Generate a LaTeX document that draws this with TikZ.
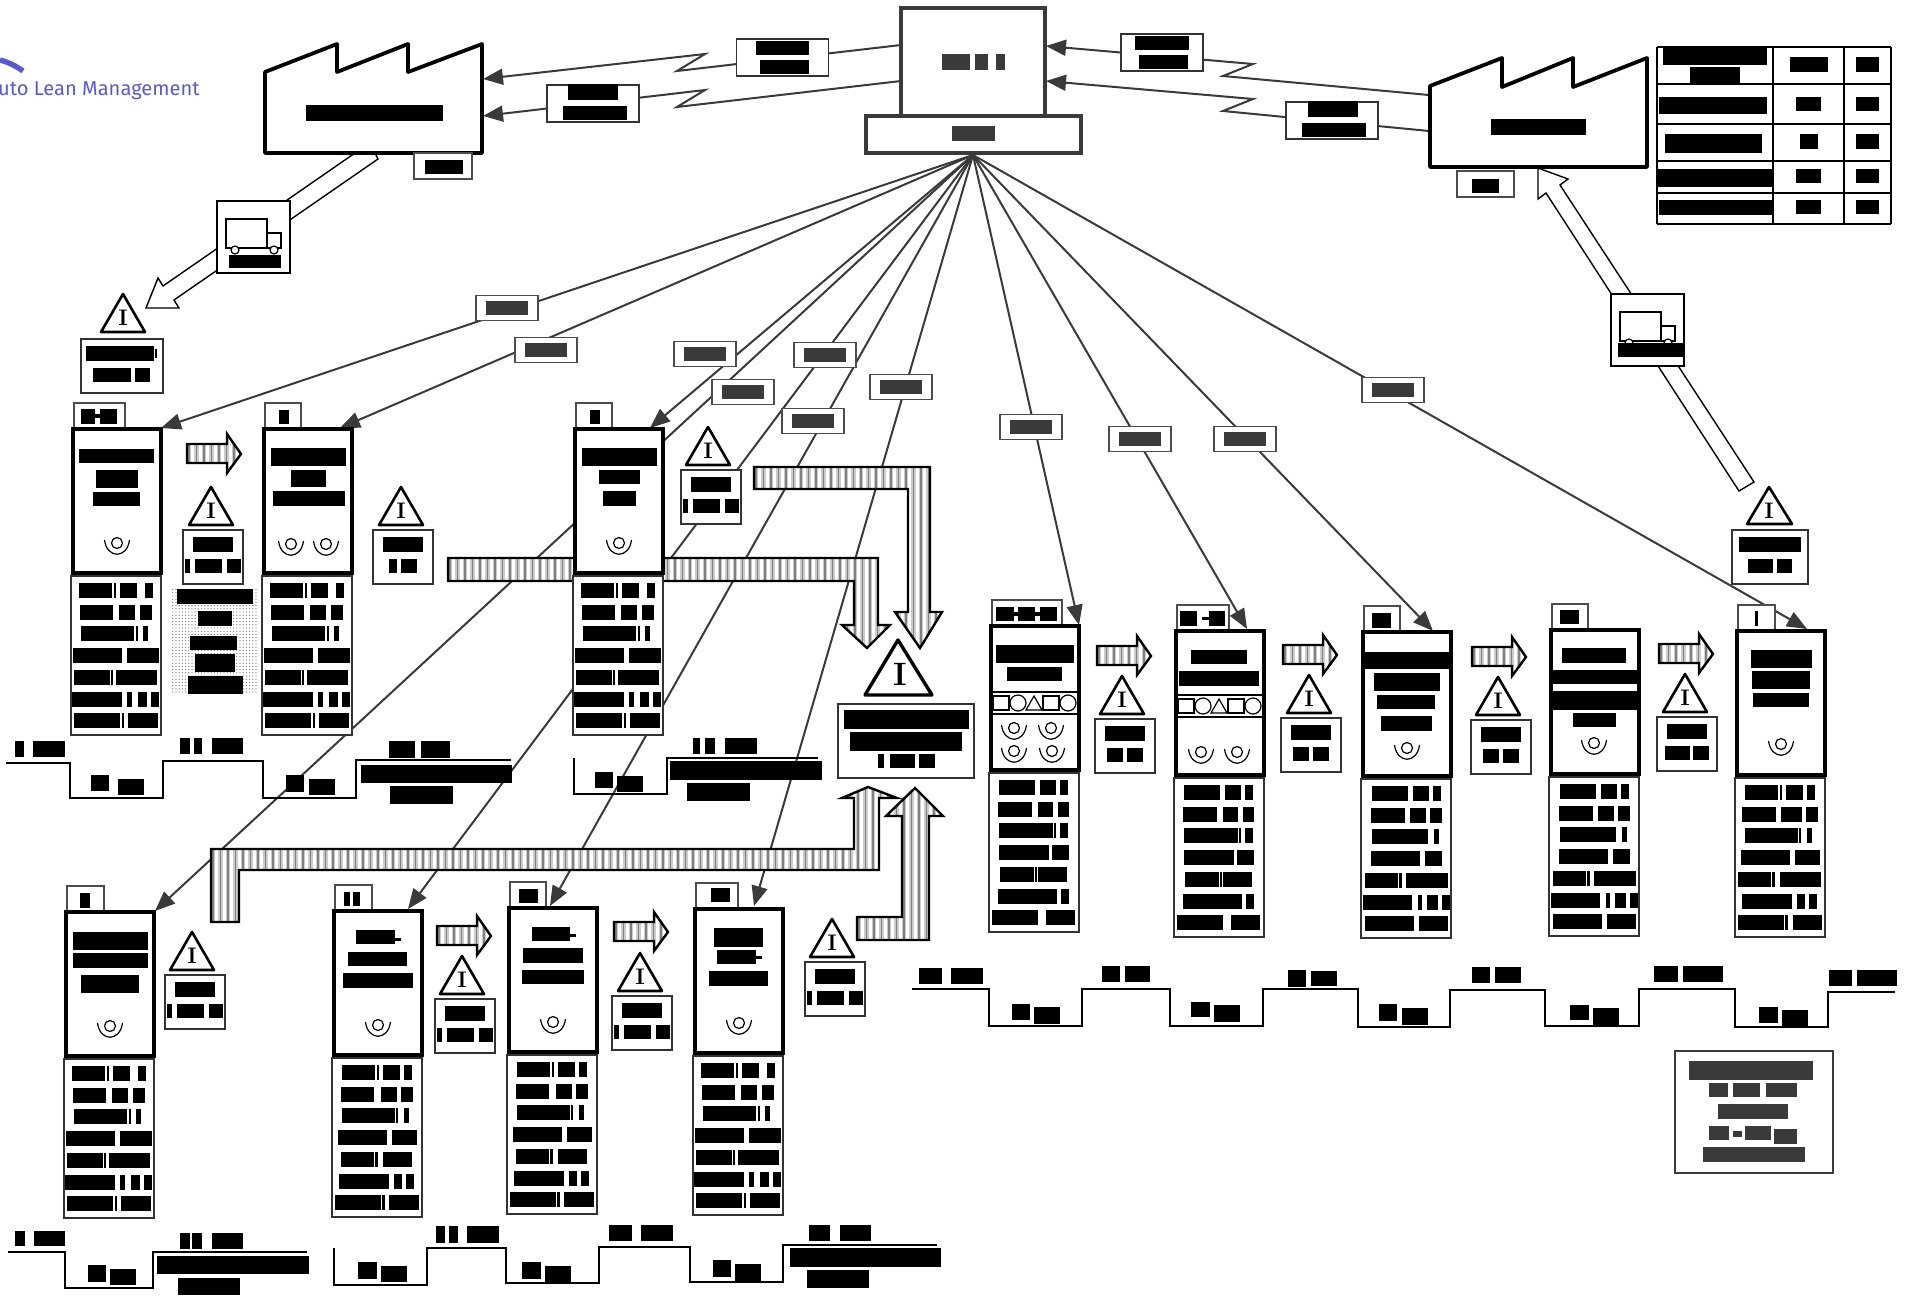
\documentclass[tikz,border=0pt]{standalone}
\usepackage{fontspec}
\usetikzlibrary{arrows.meta,patterns.meta}
\newfontfamily\logofont{Fira Sans}
\definecolor{dgray}{HTML}{3A3A3A}
\definecolor{logoblue}{HTML}{5A5ACB}

\tikzset{
    procbox/.style={draw,fill=white,line width=.175cm,inner sep=0pt,outer sep=0pt,minimum width=4.4cm,minimum height=7.2cm},
    databox/.style={draw=black!80,fill=white,line width=.075cm,inner sep=0pt,outer sep=0pt,minimum width=4.5cm,minimum height=7.95cm},
    tabbox/.style={draw=black!70,fill=white,line width=.06cm,inner sep=0pt,outer sep=0pt,minimum height=1.3cm},
    invbox/.style={draw=black!80,fill=white,line width=.075cm,inner sep=0pt,outer sep=0pt,minimum width=3cm,minimum height=2.7cm},
    invtri/.style={draw,fill=white,line width=.13cm,line join=round},
    invletter/.style={inner sep=0pt,font=\fontsize{32}{32}\selectfont\bfseries},
    hubbox/.style={draw=dgray,fill=white,line width=.17cm,inner sep=0pt,outer sep=0pt},
    infoline/.style={draw=dgray,line width=.1cm,-{Triangle[length=1cm,width=.8cm]}},
    linetag/.style={draw=black!70,fill=white,text=dgray,line width=.06cm,inner xsep=.5cm,inner ysep=.275cm,outer sep=0pt},
    wiretag/.style={draw=black!80,fill=white,line width=.06cm,inner sep=0pt,outer sep=0pt,minimum width=4.6cm,minimum height=1.85cm},
    stripeedge/.style={draw,line width=.12cm,line join=miter},
    shipping/.style={draw,fill=white,line width=.07cm},
    oprline/.style={draw,line width=.06cm},
    timeline/.style={draw,line width=.08cm},
    factory/.style={draw,fill=white,line width=.19cm,line join=round}
}

% rectangles over hidden text: x1/y1/x2/y2
\newcommand{\redact}[1]{\foreach \xa/\ya/\xb/\yb in {#1} \fill (\xa,\ya) rectangle (\xb,\yb);}
\newcommand{\datarows}[3]{\foreach \rw/\xa/\xb in #3 \fill ({#1+\xa},{#2+7+21.7*(\rw-1)}) rectangle ({#1+\xb},{#2+22+21.7*(\rw-1)});}
\newcommand{\procstep}[5]{
    \node[tabbox,anchor=south west,minimum width=#4*.05cm] (#1tab) at (#2+1,#3) {};
    \node[procbox,anchor=north west] (#1) at (#2,#3) {};
    \node[databox,anchor=north west] (#1data) at (#2-2,#3+147) {};
    \datarows{#2-2}{#3+147}{#5}
}
\newcommand{\oprmark}[2]{
    \draw[oprline] (#1,#2) circle[radius=5.5];
    \draw[oprline] (#1-12.5,#2-3) .. controls (#1-10,#2+16) and (#1+10,#2+16) .. (#1+12.5,#2-3);
}
\newcommand{\invmark}[6]{
    \draw[invtri] (#2,#3) -- (#2+22,#3+38) -- (#2-22,#3+38) -- cycle;
    \node[invletter] (#1mark) at (#2,#3+24) {I};
    \node[invbox,anchor=north west] (#1) at (#4,#5) {};
    \fill (#4+10,#5+7) rectangle (#4+50,#5+22);
    \foreach \xa/\xb in #6 \fill (#4+\xa,#5+29) rectangle (#4+\xb,#5+43);
}
% striped body: x range, y range, outline
\newcommand{\stripearea}[5]{
    \fill[white] #5;
    \pgfmathsetmacro\stripestart{#1}
    \pgfmathsetmacro\stripenext{#1+7.5}
    \pgfmathsetmacro\stripeend{#2}
    \begin{scope}
        \clip #5;
        \foreach \sx in {\stripestart,\stripenext,...,\stripeend} {
            \draw[gray!40,line width=.22cm] (\sx,#3) -- (\sx,#4);
            \draw[gray,line width=.09cm] (\sx,#3) -- (\sx,#4);
        }
    \end{scope}
    \draw[stripeedge] #5;
}
\newcommand{\pusharrow}[2]{
    \stripearea{#1+2}{#1+56}{#2-12}{#2+31}{(#1,#2) -- (#1+40,#2) -- (#1+40,#2-10) -- (#1+54,#2+10) -- (#1+40,#2+29) -- (#1+40,#2+19) -- (#1,#2+19) -- cycle}
}
\newcommand{\truckbox}[3]{
    \node[draw,fill=white,line width=.12cm,inner sep=0pt,outer sep=0pt,minimum width=3.65cm,minimum height=3.6cm,anchor=north west] (#1) at (#2,#3) {};
    \draw[line width=.06cm] (#2+9,#3+18) rectangle (#2+50,#3+47);
    \draw[line width=.06cm] (#2+50,#3+32) rectangle (#2+64,#3+47);
    \draw[line width=.06cm,fill=white] (#2+18,#3+49) circle[radius=4];
    \draw[line width=.06cm,fill=white] (#2+57,#3+49) circle[radius=4];
}
\def\invLong{2/7,12/39,44/58}
\def\invShort{12/28,32/48}
\def\invWide{8/33,36/52}
\def\invPair{16/24,28/44}
\def\rowsL{1/8/41,1/43/45,1/49/66,1/74/82,2/9/42,2/48/64,2/69/81,3/10/63,3/65/67,3/72/77,4/2/51,4/56/88,5/3/39,5/40/42,5/45/86,6/1/51,6/56/61,6/67/76,6/80/88,7/3/49,7/51/53,7/57/87}
\def\rowsM{1/10/46,1/51/67,1/71/79,2/9/43,2/49/64,2/69/80,3/10/64,3/65/67,3/71/79,4/10/60,4/63/80,5/11/45,5/46/48,5/49/78,6/9/68,6/72/80,7/3/49,7/57/86}
\def\rowsN{1/11/47,1/52/68,1/72/80,2/10/44,2/49/65,2/69/81,3/11/67,3/73/78,4/10/59,4/64/81,5/4/37,5/38/41,5/45/87,6/2/51,6/57/61,6/66/77,6/81/89,7/4/53,7/58/87}
\def\rowsP{1/10/43,1/45/47,1/51/68,1/72/80,2/7/41,2/46/67,2/71/83,3/10/63,3/64/66,3/72/77,4/6/55,4/60/85,5/3/36,5/37/40,5/45/86,6/7/57,6/62/70,6/74/82,7/3/49,7/50/53,7/58/87}
\def\rowsT{1/10/43,1/45/47,1/51/68,1/72/80,2/9/42,2/49/65,2/69/81,3/10/63,3/64/66,3/72/77,4/6/55,4/60/85,5/9/42,5/43/46,5/51/80,6/7/57,6/62/70,6/74/82,7/3/49,7/50/53,7/57/87}

\begin{document}
\begin{tikzpicture}[x=.05cm,y=-.05cm]
    \useasboundingbox (0,0) rectangle (1907,1300);

    % logo
    \draw[logoblue,line width=.27cm] (0,60) .. controls (8,62) and (16,66) .. (23,71);
    \node[anchor=base west,inner sep=0pt,text=logoblue,font=\logofont\fontsize{28.6}{30}\selectfont] (logo) at (-2,95) {uto Lean Management};

    % end points of the information lines
    \coordinate (inP2) at (340,428);
    \coordinate (inP3) at (650,428);
    \coordinate (inP5) at (1247,629);
    \coordinate (inP6) at (1433,631);
    \coordinate (inP8) at (1807,629);
    \coordinate (inP9) at (155,911);
    \coordinate (inP10) at (408,909);
    \coordinate (inP11) at (550,906);
    \coordinate (inP12) at (754,906);
    \coordinate (inP1) at (161,428);
    \coordinate (inP4) at (1079,625);
    \coordinate (hubfoot) at (973,155);

    \draw[infoline] (hubfoot) -- (inP1);
    \draw[infoline] (hubfoot) -- (inP2);
    \draw[infoline] (hubfoot) -- (inP3);
    \draw[infoline] (hubfoot) -- (inP4);
    \draw[infoline] (hubfoot) -- (inP5);
    \draw[infoline] (hubfoot) -- (inP6);
    \draw[infoline] (hubfoot) -- (inP8);
    \draw[infoline] (hubfoot) -- (inP9);
    \draw[infoline] (hubfoot) -- (inP10);
    \draw[infoline] (hubfoot) -- (inP11);
    \draw[infoline] (hubfoot) -- (inP12);

    % electronic links to the two factories
    \draw[infoline] (901,45) -- (677,71) -- (705,54) -- (483,79);
    \draw[infoline] (901,81) -- (677,107) -- (705,90) -- (483,116);
    \draw[infoline] (1429,95) -- (1223,76) -- (1253,64) -- (1046,46);
    \draw[infoline] (1429,131) -- (1223,111) -- (1253,99) -- (1046,81);

    % big striped arrows
    \stripearea{450}{892}{556}{650}{(448,558) -- (878,558) -- (878,625) -- (890,625) -- (867,648) -- (842,625) -- (854,625) -- (854,581) -- (448,581) -- cycle}
    \stripearea{756}{944}{465}{650}{(754,467) -- (930,467) -- (930,612) -- (942,612) -- (920,648) -- (895,612) -- (908,612) -- (908,489) -- (754,489) -- cycle}
    \stripearea{213}{899}{785}{924}{(211,849) -- (854,849) -- (854,798) -- (842,798) -- (868,787) -- (897,798) -- (879,798) -- (879,870) -- (239,870) -- (239,922) -- (211,922) -- cycle}
    \stripearea{859}{945}{786}{942}{(857,917) -- (902,917) -- (902,816) -- (886,816) -- (915,788) -- (943,816) -- (929,816) -- (929,940) -- (857,940) -- cycle}

    % labels on the information lines
    \node[linetag] (tagP1) at (507,308) {\rule{2.1cm}{.7cm}};
    \node[linetag] (tagP2) at (546,350) {\rule{2.1cm}{.7cm}};
    \node[linetag] (tagP3) at (705,354) {\rule{2.1cm}{.7cm}};
    \node[linetag] (tagP9) at (743,392) {\rule{2.1cm}{.7cm}};
    \node[linetag] (tagP10) at (825,355) {\rule{2.1cm}{.7cm}};
    \node[linetag] (tagP11) at (813,421) {\rule{2.1cm}{.7cm}};
    \node[linetag] (tagP12) at (901,387) {\rule{2.1cm}{.7cm}};
    \node[linetag] (tagP4) at (1031,427) {\rule{2.1cm}{.7cm}};
    \node[linetag] (tagP5) at (1140,439) {\rule{2.1cm}{.7cm}};
    \node[linetag] (tagP6) at (1245,439) {\rule{2.1cm}{.7cm}};
    \node[linetag] (tagP8) at (1393,390) {\rule{2.1cm}{.7cm}};

    \node[wiretag] (wireA) at (782.5,57.5) {};
    \node[wiretag] (wireB) at (593,103.5) {};
    \node[wiretag,minimum width=4.1cm] (wireC) at (1162,52.5) {};
    \node[wiretag] (wireD) at (1332,120.5) {};
    \redact{756/41/809/55,760/60/809/74,568/84/618/100,563/106/627/120,1135/36/1189/50,1139/55/1188/69,1308/101/1358/117,1302/123/1366/137}

    % shipments
    \draw[shipping] (355,153) -- (163,286) -- (158,278) -- (146,308) -- (179,308) -- (174,300) -- (378,159) -- (375,153) -- cycle;
    \draw[shipping] (1538,168) -- (1568,179) -- (1560,185) -- (1754,482) -- (1739,491) -- (1546,193) -- (1538,199) -- cycle;
    \truckbox{truckA}{217}{201}
    \redact{229/255/281/268}
    \truckbox{truckB}{1611}{294}
    \redact{1618/343/1683/357}

    % control centre
    \node[hubbox,minimum width=7.2cm,minimum height=5.4cm] (hubtop) at (973,62) {};
    \node[hubbox,minimum width=10.75cm,minimum height=1.85cm] (hubbase) at (973.5,134.5) {};
    \begin{scope}[color=dgray]
        \redact{942/54/970/70,975/54/988/70,996/54/1005/70,952/126/995/141}
    \end{scope}

    % factories
    \draw[factory] (265,72) -- (337,44) -- (337,72) -- (408,44) -- (408,72) -- (482,44) -- (482,153) -- (265,153) -- cycle;
    \draw[factory] (1430,86) -- (1502,58) -- (1502,87) -- (1573,58) -- (1573,87) -- (1647,58) -- (1647,167) -- (1430,167) -- cycle;
    \node[tabbox,minimum width=2.9cm,anchor=north west] (factoryAtag) at (414,153) {};
    \node[tabbox,minimum width=2.85cm,anchor=north west] (factoryBtag) at (1457,171) {};
    \redact{306/105/443/121,425/160/463/174,1491/119/1586/135,1472/179/1499/193}

    % table
    \foreach \x in {1657,1773,1844,1891} \draw[line width=.08cm] (\x,47) -- (\x,224);
    \foreach \y in {47,84,124,161,193,224} \draw[line width=.08cm] (1657,\y) -- (1891,\y);
    \redact{1663/47/1767/65,1690/67/1740/83,1790/57/1828/72,1856/57/1879/72,
        1659/97/1767/114,1796/97/1821/111,1856/97/1879/111,
        1665/134/1762/153,1800/134/1818/149,1856/134/1879/149,
        1658/169/1772/187,1796/169/1821/183,1856/169/1879/183,
        1659/200/1772/215,1796/200/1821/214,1856/200/1879/214}

    % top left group
    \procstep{P1}{73}{429}{51}{\rowsL}
    \procstep{P2}{264}{429}{36}{\rowsL}
    \procstep{P3}{575}{429}{36}{\rowsL}
    \redact{79/449/154/463,96/470/138/488,93/492/140/506,81/409/95/424,95/414/100/418,100/409/117/424}
    \redact{271/448/346/466,291/470/326/487,273/491/345/506,279/410/289/424}
    \redact{582/448/657/466,599/470/640/484,603/491/636/506,590/410/600/424}
    \oprmark{117}{543}
    \oprmark{291}{544}
    \oprmark{326}{544}
    \oprmark{619}{543}

    % dotted note between the first two steps
    \fill[pattern={Dots[distance=.16cm,radius=.035cm]},pattern color=gray] (171,589) rectangle (257,693);
    \redact{177/589/253/604,198/611/232/626,190/636/237/650,195/654/235/672,188/676/243/694}

    % right group
    \procstep{P4}{991}{626}{70}{\rowsM}
    \procstep{P5}{1176}{631}{52}{\rowsM}
    \procstep{P6}{1363}{632}{36}{\rowsN}
    \procstep{P7}{1551}{630}{36}{\rowsN}
    \procstep{P8}{1737}{631}{37}{\rowsP}
    \redact{996/645/1074/663,1007/667/1062/681,996/607/1014/621,1018/607/1035/621,1040/607/1057/621,1014/612/1040/616}
    \redact{1191/650/1247/664,1179/671/1259/686,1180/611/1197/626,1202/617/1209/620,1209/611/1225/626}
    \redact{1363/652/1451/669,1374/673/1440/691,1377/695/1435/709,1381/716/1432/731,1372/613/1391/628}
    \redact{1562/648/1626/663,1551/670/1638/684,1551/691/1638/710,1573/713/1616/727,1560/610/1579/624}
    \redact{1751/650/1812/668,1752/671/1810/689,1753/693/1809/707,1755/611/1758/626}
    \draw[oprline] (991,692) -- (1079,692) (991,714) -- (1079,714);
    \draw[oprline] (1176,695) -- (1264,695) (1176,717) -- (1264,717);
    \foreach \dx/\dy in {0/0,185/3} {
        \draw[oprline] (993+\dx,696+\dy) rectangle (1009+\dx,710+\dy);
        \draw[oprline] (1018+\dx,703+\dy) circle[radius=8];
        \draw[oprline] (1026+\dx,710+\dy) -- (1034+\dx,696+\dy) -- (1042+\dx,710+\dy) -- cycle;
        \draw[oprline] (1043+\dx,696+\dy) rectangle (1059+\dx,710+\dy);
        \draw[oprline] (1068+\dx,703+\dy) circle[radius=8];
    }
    \oprmark{1014}{728}
    \oprmark{1051}{728}
    \oprmark{1014}{751}
    \oprmark{1052}{751}
    \oprmark{1201}{752}
    \oprmark{1237}{752}
    \oprmark{1407}{748}
    \oprmark{1594}{743}
    \oprmark{1781}{744}

    % lower group
    \procstep{P9}{66}{912}{37}{\rowsL}
    \procstep{P10}{334}{911}{37}{\rowsT}
    \procstep{P11}{509}{908}{36}{\rowsT}
    \procstep{P12}{695}{909}{42}{\rowsL}
    \redact{73/932/148/950,73/953/148/968,81/975/139/993,80/893/90/908}
    \redact{356/930/395/944,395/938/401/941,348/952/407/966,343/973/413/988,344/892/350/906,353/892/360/906}
    \redact{532/927/570/941,570/934/576/937,523/948/583/963,522/970/584/984,519/889/538/903}
    \redact{714/928/763/947,717/950/756/964,756/956/762/959,709/971/768/986,711/888/730/902}
    \oprmark{110}{1026}
    \oprmark{378}{1025}
    \oprmark{553}{1022}
    \oprmark{739}{1023}

    % small push arrows
    \pusharrow{187}{444}
    \pusharrow{1097}{646}
    \pusharrow{1283}{645}
    \pusharrow{1472}{647}
    \pusharrow{1659}{644}
    \pusharrow{437}{926}
    \pusharrow{614}{922}

    % inventories
    \invmark{invA}{211}{487}{183}{530}{\invLong}
    \invmark{invB}{401}{487}{373}{530}{\invPair}
    \invmark{invC}{708}{427}{681}{470}{\invLong}
    \invmark{invD}{1122}{676}{1095}{719}{\invShort}
    \invmark{invE}{1309}{675}{1281}{718}{\invShort}
    \invmark{invF}{1498}{677}{1471}{720}{\invShort}
    \invmark{invG}{1685}{674}{1657}{717}{\invWide}
    \invmark{invH}{192}{932}{165}{975}{\invLong}
    \invmark{invI}{462}{956}{435}{999}{\invLong}
    \invmark{invJ}{640}{953}{612}{996}{\invLong}
    \invmark{invK}{832}{919}{805}{962}{\invLong}
    % first one on the raw material side and the last ones are larger
    \draw[invtri] (123,294) -- (145,332) -- (101,332) -- cycle;
    \node[invletter] (invStartmark) at (123,318) {I};
    \node[invbox,minimum width=4.1cm,anchor=north west] (invStart) at (81,339) {};
    \redact{86/346/154/361,155/349/157/358,93/368/131/382,135/368/150/382}
    \draw[invtri] (1769,487) -- (1792,524) -- (1747,524) -- cycle;
    \node[invletter] (invEndmark) at (1769,511) {I};
    \node[invbox,minimum width=3.8cm,anchor=north west] (invEnd) at (1732,530) {};
    \redact{1739/537/1801/552,1748/559/1773/573,1777/559/1792/573}
    \draw[invtri,line width=.17cm] (898,640) -- (932,695) -- (865,695) -- cycle;
    \node[invletter,font=\fontsize{46}{46}\selectfont\bfseries] (invBigmark) at (900,674) {I};
    \node[invbox,minimum width=6.8cm,minimum height=3.7cm,anchor=north west] (invBig) at (838,704) {};
    \redact{844/710/969/729,850/732/962/751,878/754/884/768,890/754/915/768,919/754/935/768}

    % lead time ladders
    \draw[timeline] (6,763) -- (70,763) -- (70,798) -- (163,798) -- (163,761) -- (263,761) -- (263,798) -- (356,798) -- (356,760) -- (511,760);
    \draw[timeline] (574,758) -- (574,794) -- (667,794) -- (667,758) -- (818,758);
    \draw[timeline] (912,989) -- (989,989) -- (989,1026) -- (1082,1026) -- (1082,989) -- (1170,989) -- (1170,1026) -- (1263,1026) -- (1263,989) -- (1358,989) -- (1358,1027) -- (1450,1027) -- (1450,990) -- (1545,990) -- (1545,1026) -- (1639,1026) -- (1639,989) -- (1735,989) -- (1735,1027) -- (1828,1027) -- (1828,992) -- (1895,992);
    \draw[timeline] (8,1252) -- (65,1252) -- (65,1288) -- (153,1288) -- (153,1252) -- (307,1252);
    \draw[timeline] (334,1248) -- (334,1285) -- (427,1285) -- (427,1248) -- (506,1248) -- (506,1283) -- (599,1283) -- (599,1247) -- (690,1247) -- (690,1282) -- (783,1282) -- (783,1245) -- (937,1245);
    \redact{15/741/24/757,33/741/65/757,91/775/109/791,118/779/144/795,180/738/190/754,194/738/202/754,212/738/243/754,286/775/304/792,309/779/335/795,389/741/415/758,421/741/450/758,361/765/512/783,390/786/453/804}
    \redact{595/772/613/788,617/776/643/792,693/738/700/754,705/738/715/754,725/738/757/754,670/761/822/780,687/783/750/801}
    \redact{919/968/942/984,951/968/983/984,1102/966/1120/982,1125/966/1150/982,1288/970/1306/987,1311/971/1337/986,1472/967/1490/983,1495/967/1521/983,1654/966/1678/982,1683/966/1723/982,1829/970/1852/986,1857/970/1897/986}
    \redact{1012/1004/1030/1020,1034/1007/1060/1024,1191/1002/1210/1017,1214/1005/1240/1022,1379/1004/1397/1021,1402/1008/1428/1025,1570/1005/1589/1020,1593/1008/1619/1025,1759/1007/1778/1023,1782/1010/1808/1027}
    \redact{15/1231/25/1246,34/1231/65/1246,88/1265/106/1282,110/1269/136/1285,180/1233/190/1249,192/1233/202/1249,212/1233/243/1249,157/1256/309/1274,178/1278/240/1295}
    \redact{358/1262/377/1279,381/1266/407/1282,436/1226/445/1243,449/1226/458/1243,467/1226/499/1243,522/1262/541/1279,545/1266/571/1282,609/1225/632/1241,641/1225/673/1241,713/1260/731/1277,735/1264/761/1281,809/1225/830/1241,840/1225/871/1241,790/1248/941/1267,807/1270/869/1288}

    % summary box
    \node[draw=dgray,fill=white,line width=.09cm,inner sep=0pt,outer sep=0pt,minimum width=7.9cm,minimum height=6.1cm,anchor=north west] (summary) at (1675,1051) {};
    \begin{scope}[color=dgray]
        \redact{1689/1061/1813/1080,1709/1083/1728/1097,1733/1083/1760/1097,1766/1083/1797/1097,1718/1104/1788/1119,1709/1126/1729/1140,1733/1131/1742/1137,1745/1126/1771/1140,1774/1129/1797/1144,1703/1147/1805/1162}
    \end{scope}
\end{tikzpicture}
\end{document}
